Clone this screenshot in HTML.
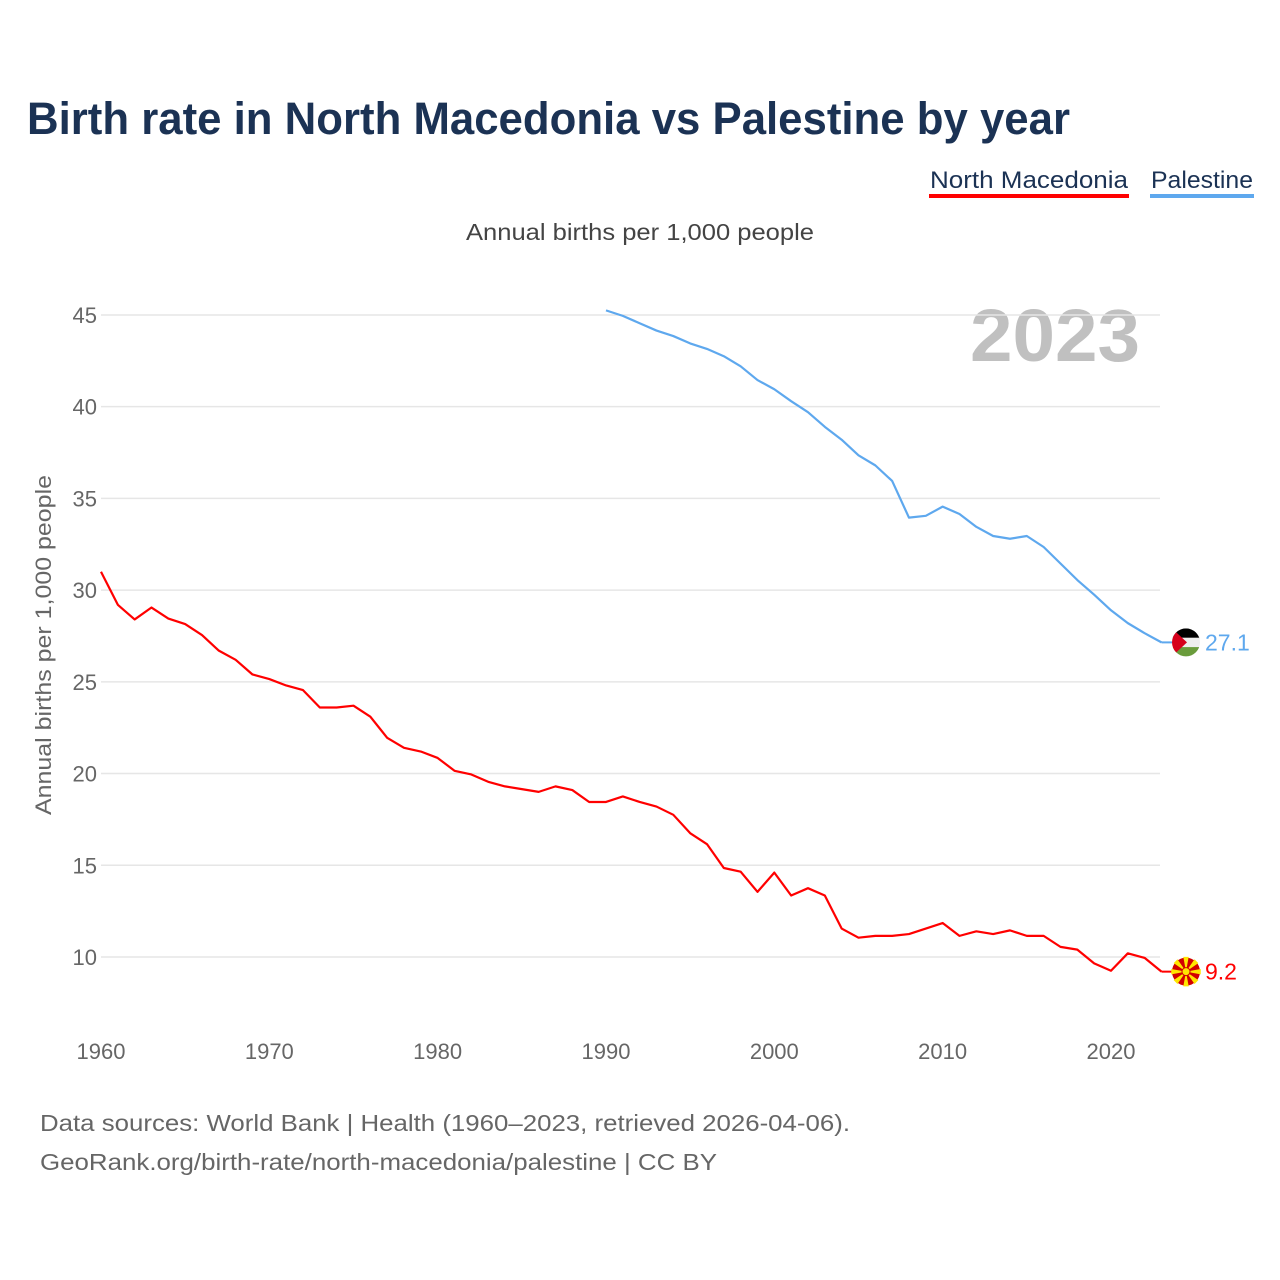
<!DOCTYPE html>
<html><head><meta charset="utf-8"><style>
body{margin:0;background:#fff;font-family:"Liberation Sans",sans-serif}
#wrap{position:relative;width:1280px;height:1280px;overflow:hidden}
</style></head><body>
<div id="wrap">
<svg id="chart" width="1280" height="1280">
<text x="27" y="134" font-size="45" font-weight="bold" fill="#1b3254" textLength="1043" lengthAdjust="spacingAndGlyphs">Birth rate in North Macedonia vs Palestine by year</text>
<g><text x="930" y="188" font-size="24" fill="#1b3254" textLength="198" lengthAdjust="spacingAndGlyphs">North Macedonia</text><rect x="929" y="194" width="200" height="4" fill="#ff0000"/></g>
<g><text x="1151" y="188" font-size="24" fill="#1b3254" textLength="102" lengthAdjust="spacingAndGlyphs">Palestine</text><rect x="1150" y="194" width="104" height="4" fill="#5ea8ee"/></g>
<text x="466" y="240" font-size="23" fill="#444" textLength="348" lengthAdjust="spacingAndGlyphs">Annual births per 1,000 people</text>
<text x="1140" y="361" font-size="74" font-weight="bold" fill="#c0c0c0" text-anchor="end" textLength="170" lengthAdjust="spacingAndGlyphs">2023</text>
<text transform="translate(51,645) rotate(-90)" font-size="22" fill="#666" text-anchor="middle" textLength="340" lengthAdjust="spacingAndGlyphs">Annual births per 1,000 people</text>
<g id="grid"></g><g id="lines"></g><g id="ends"></g>
<text x="40" y="1131" font-size="23" fill="#666" textLength="810" lengthAdjust="spacingAndGlyphs">Data sources: World Bank | Health (1960–2023, retrieved 2026-04-06).</text>
<text x="40" y="1170" font-size="23" fill="#666" textLength="677" lengthAdjust="spacingAndGlyphs">GeoRank.org/birth-rate/north-macedonia/palestine | CC BY</text>
</svg></div>
<script>
const yTicks=[10,15,20,25,30,35,40,45];
const xTicks=[1960,1970,1980,1990,2000,2010,2020];
const mkYears=[];for(let y=1960;y<=2023;y++)mkYears.push(y);
const mkValues=[31.0,29.2,28.4,29.05,28.45,28.15,27.55,26.7,26.2,25.4,25.15,24.8,24.55,23.6,23.6,23.7,23.1,21.95,21.4,21.2,20.85,20.15,19.95,19.55,19.3,19.15,19.0,19.3,19.1,18.45,18.45,18.75,18.45,18.2,17.75,16.75,16.15,14.85,14.65,13.55,14.6,13.35,13.75,13.35,11.55,11.05,11.15,11.15,11.25,11.55,11.85,11.15,11.4,11.25,11.45,11.15,11.15,10.55,10.4,9.65,9.25,10.2,9.95,9.2];
const psYears=[];for(let y=1990;y<=2023;y++)psYears.push(y);
const psValues=[45.25,44.95,44.55,44.15,43.85,43.45,43.15,42.75,42.2,41.45,40.95,40.3,39.7,38.9,38.2,37.35,36.8,35.95,33.95,34.05,34.55,34.15,33.45,32.95,32.8,32.95,32.35,31.45,30.55,29.75,28.9,28.2,27.65,27.15];
const NS="http://www.w3.org/2000/svg";
const X=y=>101+(y-1960)*16.833;
const Y=v=>1140.4-v*18.343;
function el(t,a,p){const e=document.createElementNS(NS,t);for(const k in a)e.setAttribute(k,a[k]);p.appendChild(e);return e;}
const grid=document.getElementById('grid');
yTicks.forEach(v=>{
 const l=el('line',{x1:101,x2:1160,y1:Y(v),y2:Y(v),stroke:'#e6e6e6','stroke-width':1.5},grid);
 
 
 const t=el('text',{x:97,y:Y(v)+8,'font-size':22,fill:'#666','text-anchor':'end'},grid);t.textContent=v;
 
 
});
xTicks.forEach(v=>{
 const t=el('text',{x:X(v),y:1059,'font-size':22,fill:'#666','text-anchor':'middle'},grid);t.textContent=v;
 
 
});
const lines=document.getElementById('lines');
function series(ys,vs,c,w,name){
 const p=el('polyline',{points:ys.map((y,i)=>X(y)+','+Y(vs[i])).join(' '),fill:'none',stroke:c,'stroke-width':w,'stroke-linejoin':'round'},lines);
 
 
}
series(mkYears,mkValues,'#ff0000',2.2,'line-north-macedonia');
series(psYears,psValues,'#5ea8ee',2.2,'line-palestine');
const ends=document.getElementById('ends');
const cx=1186;
const pv=psValues[psValues.length-1],py=Y(pv);
el('line',{x1:X(2023),x2:cx-14,y1:py,y2:py,stroke:'#5ea8ee','stroke-width':2},ends);
const pg=el('g',{},ends);


const cp=el('clipPath',{id:'cp1'},pg);
el('circle',{cx:cx,cy:py,r:14},cp);
const pf=el('g',{'clip-path':'url(#cp1)'},pg);
el('rect',{x:cx-14,y:py-14,width:28,height:10,fill:'#000'},pf);
el('rect',{x:cx-14,y:py-4.7,width:28,height:9.4,fill:'#eee'},pf);
el('rect',{x:cx-14,y:py+4.7,width:28,height:10,fill:'#6a9c3c'},pf);
el('polygon',{points:`${cx-14},${py-14} ${cx+1},${py} ${cx-14},${py+14}`,fill:'#d6001c'},pf);
const pt=el('text',{x:1205,y:py+8,'font-size':23,fill:'#5ea8ee'},ends);pt.textContent=pv.toFixed(1);


const mv=mkValues[mkValues.length-1],my=Y(mv);
el('line',{x1:X(2023),x2:cx-14,y1:my,y2:my,stroke:'#ff0000','stroke-width':2},ends);
const mg=el('g',{},ends);


el('circle',{cx:cx,cy:my,r:14,fill:'#d20000'},mg);
for(let a=0;a<8;a++){const r=a*Math.PI/4,d=0.18;
 el('polygon',{points:`${cx},${my} ${cx+15*Math.cos(r-d)},${my+15*Math.sin(r-d)} ${cx+15*Math.cos(r+d)},${my+15*Math.sin(r+d)}`,fill:'#ffe600'},mg);}
el('circle',{cx:cx,cy:my,r:4,fill:'#ffe600',stroke:'#d20000','stroke-width':1},mg);
const mt=el('text',{x:1205,y:my+8,'font-size':23,fill:'#ff0000'},ends);mt.textContent=mv.toFixed(1);


</script></body></html>
